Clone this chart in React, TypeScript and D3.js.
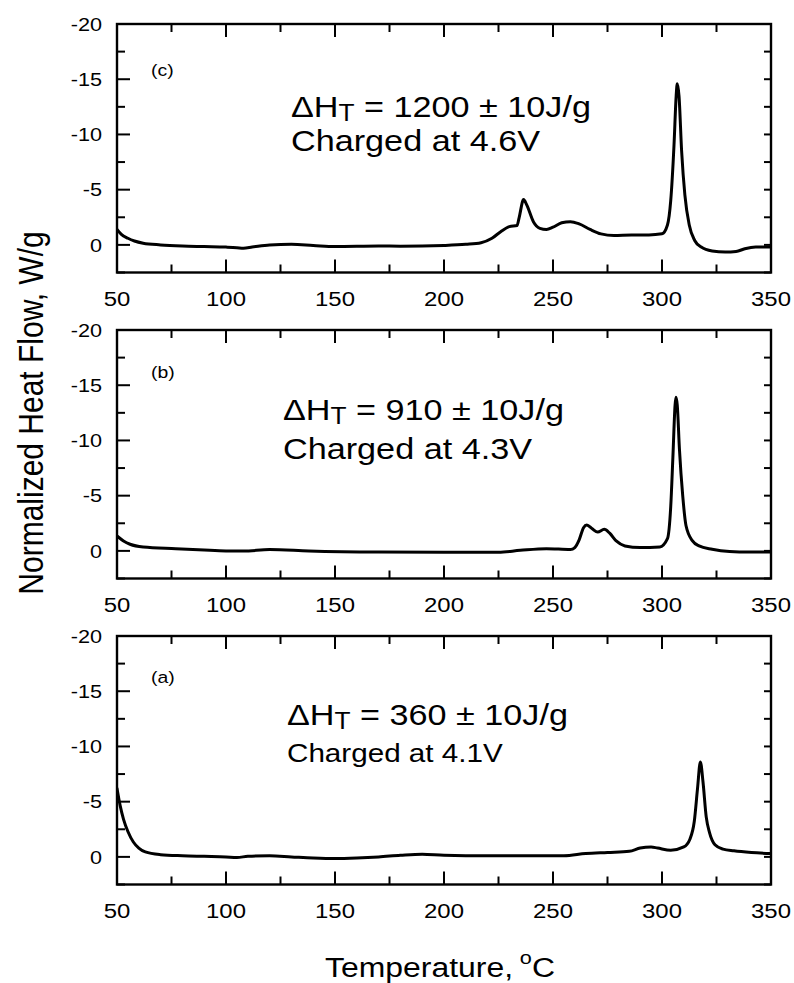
import React from "react";
import * as d3 from "d3";

// ---- data (Temperature °C, normalized heat flow W/g; exotherm plotted upward as negative) ----
const tempC = [50, 52, 55, 58, 62, 70, 80, 90, 100, 105, 108, 112, 120, 130, 140, 150, 170, 180, 200, 210, 217, 222, 226, 230, 233.5, 234.5, 236.5, 238, 241, 244, 247, 250, 254, 258, 262, 267, 272, 278, 286, 294, 300, 302.5, 304, 305.5, 306.5, 307, 307.8, 309, 310.5, 312.5, 315, 318, 323, 329, 334, 338, 343, 350];
const flowC = [-1.4, -0.95, -0.6, -0.35, -0.15, 0.0, 0.1, 0.15, 0.2, 0.25, 0.3, 0.2, 0.0, -0.05, 0.05, 0.15, 0.1, 0.12, 0.05, -0.05, -0.2, -0.6, -1.2, -1.65, -1.75, -2.5, -4.1, -3.6, -2.1, -1.5, -1.4, -1.6, -2.0, -2.1, -1.9, -1.4, -1.0, -0.85, -0.9, -0.9, -1.0, -1.8, -4.0, -9.0, -13.5, -14.6, -13.5, -8.5, -4.5, -1.8, -0.4, 0.2, 0.55, 0.65, 0.6, 0.35, 0.2, 0.2];

const tempB = [50, 53, 56, 62, 77, 90, 100, 108, 120, 138, 170, 200, 225, 235, 247, 258, 260, 262, 264, 265.5, 268, 270.5, 273.5, 276, 279, 283, 290, 299, 302.5, 304, 305, 306, 306.4, 307, 308, 309.5, 311, 314, 317, 323, 331, 340, 350];
const flowB = [-1.35, -0.9, -0.6, -0.35, -0.2, -0.08, 0.0, 0.02, -0.12, 0.0, 0.1, 0.12, 0.12, -0.05, -0.2, -0.12, -0.3, -1.0, -2.1, -2.35, -2.0, -1.7, -1.95, -1.6, -0.9, -0.45, -0.3, -0.35, -1.1, -4.0, -8.5, -13.2, -13.9, -13.2, -9.2, -5.0, -2.3, -0.9, -0.45, -0.15, 0.05, 0.1, 0.1];

const tempA = [50, 51.5, 53, 55, 57.5, 60, 63, 70, 80, 90, 100, 105, 110, 120, 130, 140, 150, 160, 170, 180, 190, 200, 220, 240, 255, 265, 275, 285, 290, 295, 298, 304, 310, 312.8, 314.8, 316.3, 317.6, 318.8, 320.3, 321.8, 324.3, 328, 333, 341, 350];
const flowA = [-6.2, -4.6, -3.4, -2.3, -1.35, -0.8, -0.45, -0.2, -0.1, -0.05, 0.0, 0.05, -0.05, -0.1, 0.0, 0.1, 0.15, 0.1, 0.0, -0.15, -0.25, -0.15, -0.1, -0.1, -0.1, -0.3, -0.4, -0.5, -0.8, -0.9, -0.8, -0.6, -0.9, -1.6, -3.2, -6.2, -8.6, -6.8, -3.6, -2.2, -1.1, -0.7, -0.55, -0.4, -0.3];

const panelTags = ["(c)", "(b)", "(a)"];
const panelEnthalpy = ["1200", "910", "360"];
const panelVoltage = ["4.6V", "4.3V", "4.1V"];

const xMajorTicks = [50, 100, 150, 200, 250, 300, 350];
const xMinorTicks = [75, 125, 175, 225, 275, 325];
const yMajorTicks = [-20, -15, -10, -5, 0];
const yMinorTicks = [-17.5, -12.5, -7.5, -2.5, 2.5];
const yAllTicks = [-20, -17.5, -15, -12.5, -10, -7.5, -5, -2.5, 0, 2.5];

// ---- layout ----
const W = 794;
const H = 983;
const LEFT = 117;
const RIGHT = 771;
const PANEL_H = 248.5;
const PANEL_TOPS = [24, 330, 636];
const SX = 1.14; // horizontal stretch of glyphs in the reference
const FONT = "'Liberation Sans', Arial, Helvetica, sans-serif";

const panelsData = [
  { t: tempC, f: flowC, tagDy: 52, annX: 291, annDy: 93, chargeDy: 127, chargeSize: 30 },
  { t: tempB, f: flowB, tagDy: 48, annX: 283, annDy: 90, chargeDy: 129, chargeSize: 30 },
  { t: tempA, f: flowA, tagDy: 47, annX: 287, annDy: 89, chargeDy: 126, chargeSize: 26 },
];

function SText(props: { x: number; y: number; size: number; anchor?: string; children: any }) {
  const { x, y, size, anchor, children } = props;
  return (
    <text
      transform={`translate(${x},${y}) scale(${SX},1)`}
      fontSize={size}
      fontFamily={FONT}
      textAnchor={anchor || "start"}
      fill="#000"
    >
      {children}
    </text>
  );
}

function Panel(props: { idx: number }) {
  const { idx } = props;
  const p = panelsData[idx];
  const top = PANEL_TOPS[idx];
  const bottom = top + PANEL_H;
  const x = d3.scaleLinear().domain([50, 350]).range([LEFT, RIGHT]);
  const y = d3.scaleLinear().domain([-20, 2.5]).range([top, bottom]);
  const pts: [number, number][] = p.t.map((t, i) => [t, p.f[i]]);
  const line = d3
    .line<[number, number]>()
    .x((d) => x(d[0]))
    .y((d) => y(d[1]))
    .curve(d3.curveMonotoneX);

  const clipId = `clip-${idx}`;
  return (
    <g>
      <defs>
        <clipPath id={clipId}>
          <rect x={LEFT} y={top} width={RIGHT - LEFT} height={PANEL_H} />
        </clipPath>
      </defs>
      {/* ticks */}
      <g stroke="#000" strokeWidth={2}>
        {xMajorTicks.map((t) => (
          <g key={`xM${t}`}>
            <line x1={x(t)} x2={x(t)} y1={top} y2={top + 13} />
            <line x1={x(t)} x2={x(t)} y1={bottom} y2={bottom - 13} />
          </g>
        ))}
        {xMinorTicks.map((t) => (
          <g key={`xm${t}`}>
            <line x1={x(t)} x2={x(t)} y1={top} y2={top + 8} />
            <line x1={x(t)} x2={x(t)} y1={bottom} y2={bottom - 8} />
          </g>
        ))}
        {yMajorTicks.map((v) => (
          <line key={`yM${v}`} x1={LEFT} x2={LEFT + 13} y1={y(v)} y2={y(v)} />
        ))}
        {yMinorTicks.map((v) => (
          <line key={`ym${v}`} x1={LEFT} x2={LEFT + 8} y1={y(v)} y2={y(v)} />
        ))}
        {yAllTicks.map((v) => (
          <line key={`yr${v}`} x1={RIGHT} x2={RIGHT - 7} y1={y(v)} y2={y(v)} />
        ))}
      </g>
      {/* curve */}
      <path
        d={line(pts) || ""}
        fill="none"
        stroke="#000"
        strokeWidth={3}
        strokeLinejoin="round"
        strokeLinecap="round"
        clipPath={`url(#${clipId})`}
      />
      {/* frame */}
      <rect x={LEFT} y={top} width={RIGHT - LEFT} height={PANEL_H} fill="none" stroke="#000" strokeWidth={2.4} />
      {/* y tick labels */}
      {yMajorTicks.map((v) => (
        <SText key={`yl${v}`} x={LEFT - 15} y={y(v) + 6.7} size={19} anchor="end">
          {String(v)}
        </SText>
      ))}
      {/* x tick labels */}
      {xMajorTicks.map((t) => (
        <SText key={`xl${t}`} x={x(t)} y={bottom + 33} size={21} anchor="middle">
          {String(t)}
        </SText>
      ))}
      {/* panel tag */}
      <SText x={151} y={top + p.tagDy} size={17}>
        {panelTags[idx]}
      </SText>
      {/* annotation */}
      <SText x={p.annX} y={top + p.annDy} size={30}>
        ΔH
        <tspan fontSize={23} dy={4}>T</tspan>
        <tspan dy={-4}>{` = ${panelEnthalpy[idx]} ± 10J/g`}</tspan>
      </SText>
      <SText x={p.annX} y={top + p.chargeDy} size={p.chargeSize}>
        {`Charged at ${panelVoltage[idx]}`}
      </SText>
    </g>
  );
}

export default function App() {
  return (
    <svg
      width={W}
      height={H}
      viewBox={`0 0 ${W} ${H}`}
      style={{ position: "absolute", left: 0, top: 0, background: "#fff" }}
    >
      <rect x={0} y={0} width={W} height={H} fill="#fff" />
      {[0, 1, 2].map((i) => (
        <Panel key={i} idx={i} />
      ))}
      {/* y axis title */}
      <text
        transform={`translate(43,413) scale(${SX},1) rotate(-90)`}
        fontSize={30}
        fontFamily={FONT}
        textAnchor="middle"
        fill="#000"
      >
        Normalized Heat Flow, W/g
      </text>
      {/* x axis title */}
      <SText x={440} y={977} size={28} anchor="middle">
        Temperature,
        <tspan dx={6} dy={-13} fontSize={19}>o</tspan>
        <tspan dy={13}>C</tspan>
      </SText>
    </svg>
  );
}
